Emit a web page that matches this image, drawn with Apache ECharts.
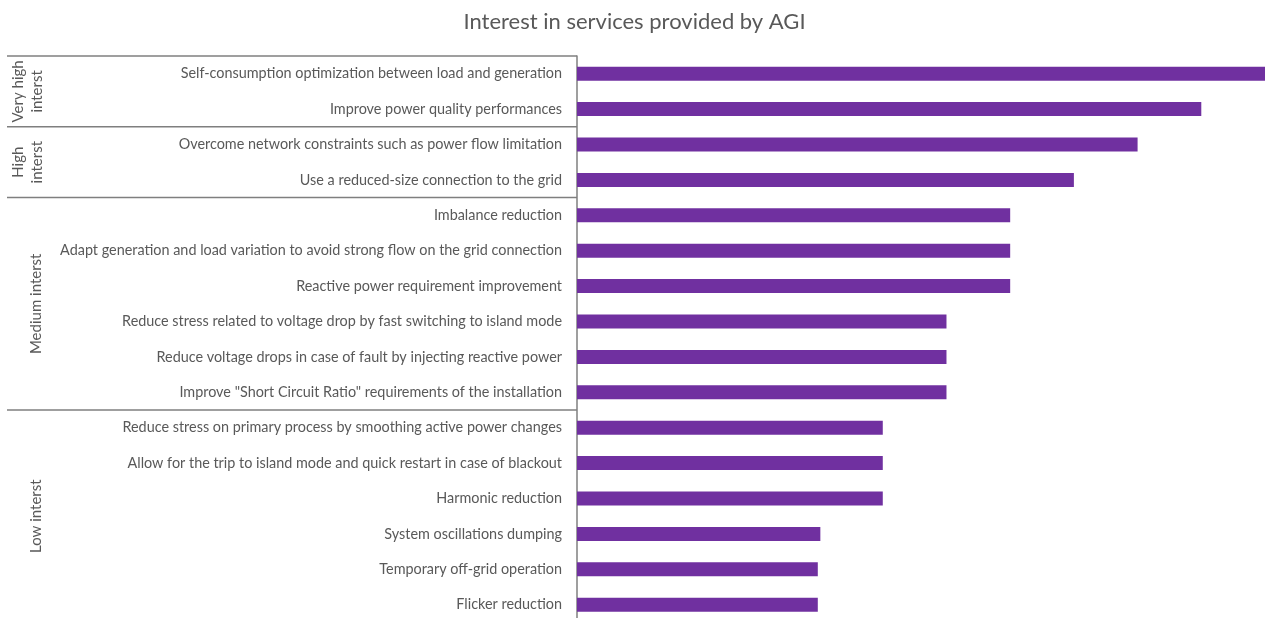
<!DOCTYPE html>
<html>
<head>
<meta charset="utf-8">
<script src="https://cdn.jsdelivr.net/npm/echarts@6/dist/echarts.min.js"></script>
<style>
html,body{margin:0;padding:0;background:#fff;}
#chart{width:1269px;height:618px;}
</style>
</head>
<body>
<div id="chart"></div>
<script>
const titleText = 'Interest in services provided by AGI';
const categories = [
  'Self-consumption optimization between load and generation',
  'Improve power quality performances',
  'Overcome network constraints such as power flow limitation',
  'Use a reduced-size connection to the grid',
  'Imbalance reduction',
  'Adapt generation and load variation to avoid strong flow on the grid connection',
  'Reactive power requirement improvement',
  'Reduce stress related to voltage drop by fast switching to island mode',
  'Reduce voltage drops in case of fault by injecting reactive power',
  'Improve "Short Circuit Ratio" requirements of the installation',
  'Reduce stress on primary process by smoothing active power changes',
  'Allow for the trip to island mode and quick restart in case of blackout',
  'Harmonic reduction',
  'System oscillations dumping',
  'Temporary off-grid operation',
  'Flicker reduction'
];
const values = [54, 49, 44, 39, 34, 34, 34, 29, 29, 29, 24, 24, 24, 19.1, 18.9, 18.9];
const groupNames = ['Very high\ninterst', 'High\ninterst', 'Medium interst', 'Low interst'];
const groupSizes = [2, 2, 6, 6];

const TEXT = '#595959';
const LINE = '#7f7f7f';
const FONT = 'Lato';

const chart = echarts.init(document.getElementById('chart'), null, {renderer: 'canvas'});
const option = {
  animation: false,
  backgroundColor: '#ffffff',
  title: {
    text: titleText,
    left: 'center',
    top: 6,
    textStyle: {fontSize: 22, fontWeight: 'normal', color: TEXT, fontFamily: FONT}
  },
  grid: {left: 577, right: 4, top: 56, height: 566.4, containLabel: false, outerBoundsMode: 'none'},
  xAxis: {
    type: 'value', min: 0, max: 54, show: false
  },
  yAxis: {
    type: 'category',
    data: categories,
    inverse: true,
    axisLine: {show: true, lineStyle: {color: LINE, width: 1.5}},
    axisTick: {show: false},
    axisLabel: {color: TEXT, fontSize: 14.4, fontFamily: FONT, margin: 15}
  },
  series: [{
    type: 'bar',
    data: values,
    barWidth: 14,
    itemStyle: {color: '#7030A0'}
  }]
};
chart.setOption(option);

// group separators and labels
const yPix = i => chart.convertToPixel({yAxisIndex: 0}, i);
const step = yPix(1) - yPix(0);
const boundary = i => yPix(0) + (i - 0.5) * step;
const graphics = [];
let start = 0;
groupNames.forEach((name, gi) => {
  const end = start + groupSizes[gi];
  const yTop = boundary(start);
  const yBot = boundary(end);
  graphics.push({
    type: 'line', silent: true,
    shape: {x1: 7, y1: yTop, x2: 577, y2: yTop},
    style: {stroke: LINE, lineWidth: 1.5}
  });
  const multi = name.indexOf('\n') >= 0;
  graphics.push({
    type: 'text', silent: true,
    x: multi ? 28 : 36, y: (yTop + yBot) / 2,
    rotation: Math.PI / 2,
    style: {
      text: name, fill: TEXT, fontSize: 15, fontFamily: FONT,
      align: 'center', verticalAlign: 'middle', lineHeight: 19
    }
  });
  start = end;
});
chart.setOption({graphic: graphics});
</script>
</body>
</html>
